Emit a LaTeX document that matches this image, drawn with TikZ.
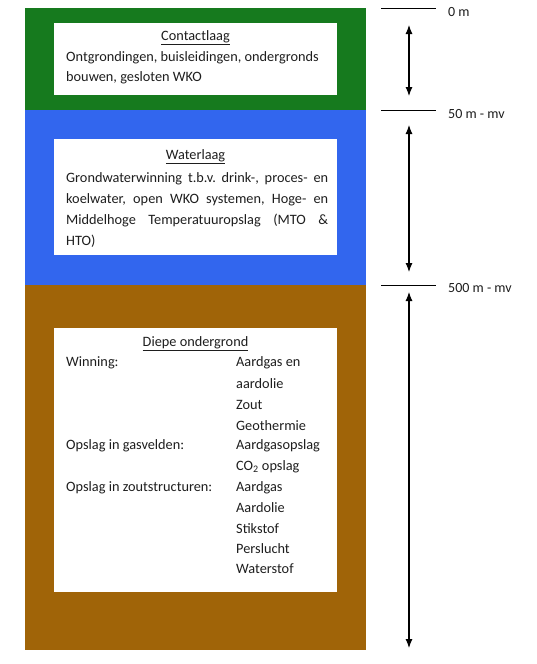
\documentclass[tikz,border=0pt]{standalone}
\usepackage{fontspec}
\setmainfont{Carlito}
\usetikzlibrary{arrows.meta}
\definecolor{laaggreen}{RGB}{22,122,30}
\definecolor{laagblue}{RGB}{50,102,238}
\definecolor{laagbrown}{RGB}{160,100,8}
\definecolor{txtgray}{RGB}{30,30,30}
\tikzset{
  title/.style={font=\fontsize{14.3}{16}\selectfont, text=txtgray, anchor=center, inner sep=0pt},
  body/.style={font=\fontsize{14.3}{16}\selectfont, text=txtgray, anchor=west, inner sep=0pt},
  depth/.style={font=\fontsize{14}{16}\selectfont, text=txtgray, anchor=west, inner sep=0pt},
  tick/.style={line width=0.8pt, black},
  span/.style={line width=1.1pt, black, {Latex[length=9pt,width=7pt]}-{Latex[length=9pt,width=7pt]}}
}
\begin{document}
\frenchspacing
\begin{tikzpicture}[x=1pt,y=-1pt]
\useasboundingbox (0,0) rectangle (537,664);
\fill[white] (0,0) rectangle (537,664);
% layers
\fill[laaggreen] (25,8) rectangle (366,110);
\fill[laagblue] (25,110) rectangle (366,285);
\fill[laagbrown] (25,285) rectangle (366,650);
% white boxes
\fill[white] (54,23) rectangle (337,95);
\fill[white] (54,139) rectangle (337,255);
\fill[white] (54,328) rectangle (337,592);
% Contactlaag
\node[title] (t1) at (195.5,38) {\underline{Contactlaag}};
\node[body] (c1) at (66,58) {Ontgrondingen, buisleidingen, ondergronds};
\node[body] (c2) at (66,78) {bouwen, gesloten WKO};
% Waterlaag
\node[title] (t2) at (195.5,157) {\underline{Waterlaag}};
\node[body] (w1) at (66,179) {\makebox[262pt][s]{Grondwaterwinning t.b.v. drink-, proces- en}};
\node[body] (w2) at (66,199.5) {\makebox[262pt][s]{koelwater, open WKO systemen, Hoge- en}};
\node[body] (w3) at (66,220) {\makebox[262pt][s]{Middelhoge Temperatuuropslag (MTO \&}};
\node[body] (w4) at (66,241) {HTO)};
% Diepe ondergrond
\node[title] (t3) at (195.5,344) {\underline{Diepe ondergrond}};
\node[body] (l1) at (66,363) {Winning:};
\node[body] (l2) at (66,446) {Opslag in gasvelden:};
\node[body] (l3) at (66,488) {Opslag in zoutstructuren:};
\node[body] (r1) at (236,363) {Aardgas en};
\node[body] (r2) at (236,384) {aardolie};
\node[body] (r3) at (236,405) {Zout};
\node[body] (r4) at (236,426) {Geothermie};
\node[body] (r5) at (236,446) {Aardgasopslag};
\node[body] (r6) at (236,467) {CO\textsubscript{2} opslag};
\node[body] (r7) at (236,488) {Aardgas};
\node[body] (r8) at (236,508) {Aardolie};
\node[body] (r9) at (236,529) {Stikstof};
\node[body] (r10) at (236,549) {Perslucht};
\node[body] (r11) at (236,569) {Waterstof};
% depth marks
\coordinate (m0a) at (381,8);   \coordinate (m0b) at (436,8);
\coordinate (m1a) at (381,110); \coordinate (m1b) at (436,110);
\coordinate (m2a) at (381,285); \coordinate (m2b) at (436,285);
\draw[tick] (m0a) -- (m0b);
\draw[tick] (m1a) -- (m1b);
\draw[tick] (m2a) -- (m2b);
\node[depth] (d0) at (448,12) {0 m};
\node[depth] (d1) at (448,114) {50 m - mv};
\node[depth] (d2) at (448,288) {500 m - mv};
% spans
\coordinate (a1t) at (409,25);  \coordinate (a1b) at (409,96);
\coordinate (a2t) at (409,125); \coordinate (a2b) at (409,272);
\coordinate (a3t) at (409,292); \coordinate (a3b) at (409,648);
\draw[span] (a1t) -- (a1b);
\draw[span] (a2t) -- (a2b);
\draw[span] (a3t) -- (a3b);
\end{tikzpicture}
\end{document}
